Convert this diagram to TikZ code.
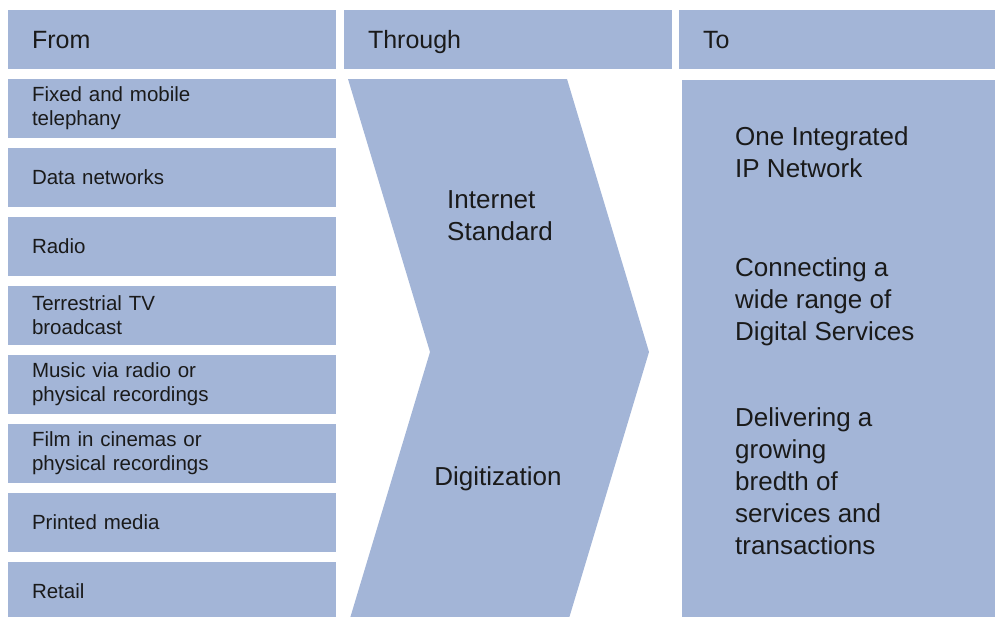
\documentclass[tikz,border=0pt]{standalone}
\usepackage{fontspec}
\setmainfont{Liberation Sans}
\usetikzlibrary{positioning}

\definecolor{boxblue}{HTML}{A3B5D7}
\definecolor{inkdark}{HTML}{1A1A1A}

\tikzset{
	box/.style={fill=boxblue, inner sep=0pt, outer sep=0pt, anchor=north west},
	header/.style={box, minimum height=59pt, inner xsep=24pt, align=left, text=inkdark,
		text height=18pt, text depth=0pt, font=\fontsize{25}{30}\selectfont},
	srcbox/.style={box, minimum width=328pt, minimum height=59pt, text width=280pt,
		inner xsep=24pt, align=left, text=inkdark, font=\fontsize{20.5}{24}\selectfont},
	bigtxt/.style={inner sep=0pt, align=left, text=inkdark, font=\fontsize{26}{32}\selectfont}
}

\begin{document}
\begin{tikzpicture}[x=1pt,y=-1pt]
	  \useasboundingbox (0,0) rectangle (995,616);

	  % Column headers
	  \node[header, minimum width=328pt, text width=280pt] (from) at (8,10) {From};
	  \node[header, minimum width=328pt, text width=280pt] (through) at (344,10) {Through};
	  \node[header, minimum width=316pt, text width=268pt] (to) at (679,10) {To};

	  % Source boxes
	  \foreach \i/\txt in {1/{Fixed and mobile\\telephany}, 2/{Data networks}, 3/{Radio},
		4/{Terrestrial TV\\broadcast}, 5/{Music via radio or\\physical recordings},
		6/{Film in cinemas or\\physical recordings}, 7/{Printed media}, 8/{Retail}} {
		\node[srcbox] (src-\i) at (8,{79+69*(\i-1)}) {\txt};
	  }

	  % Chevron
	  \fill[boxblue] (348,79) -- (567,79) -- (649,352) -- (567,625) -- (348,625) -- (430,352) -- cycle;
	  \node[bigtxt] (inet) at (500,216) {Internet\\Standard};
	  \node[bigtxt] (digit) at (498,479) {Digitization};

	  % Target box
	  \node[box, minimum width=313pt, minimum height=545pt] (target) at (682,80) {};
	  \node[bigtxt, anchor=west] (ipnet) at (735,152) {One Integrated\\IP Network};
	  \node[bigtxt, anchor=west] (digserv) at (735,302) {Connecting a\\wide range of\\Digital Services};
	  \node[bigtxt, anchor=west] (deliver) at (735,481) {Delivering a\\growing\\bredth of\\services and\\transactions};
	\end{tikzpicture}
\end{document}
